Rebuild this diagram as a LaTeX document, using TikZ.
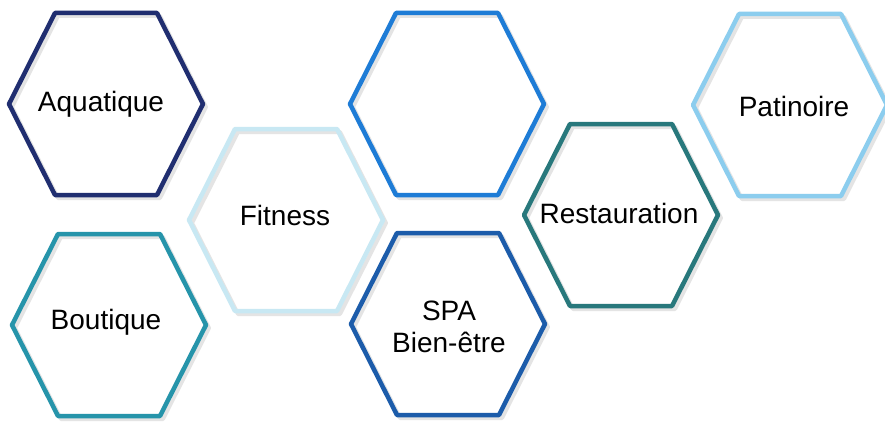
\documentclass[tikz,border=0pt]{standalone}
\usepackage{fontspec}
\setmainfont{Liberation Sans}
\definecolor{cAq}{RGB}{32,46,112}
\definecolor{cBo}{RGB}{38,148,170}
\definecolor{cFi}{RGB}{200,232,243}
\definecolor{cBl}{RGB}{30,124,214}
\definecolor{cSp}{RGB}{28,92,170}
\definecolor{cRe}{RGB}{40,120,124}
\definecolor{cPa}{RGB}{140,205,238}
\begin{document}
\begin{tikzpicture}[x=1pt,y=-1pt,
  hexshadow/.style={draw=black!30,opacity=.35,line width=4pt,line join=round},
  hexline/.style={line width=4.5pt,line join=round},
  lbl/.style={font=\fontsize{28}{32}\selectfont,text=black,align=center,inner sep=0pt},
  pics/hexa/.style={code={
    \draw[hexshadow] (-94,3)--(-48,-88)--(54,-88)--(100,3)--(54,94)--(-48,94)--cycle;
    \draw[pic actions,hexline] (-97,0)--(-51,-91)--(51,-91)--(97,0)--(51,91)--(-51,91)--cycle;
  }}]
\useasboundingbox[fill=white] (0,0) rectangle (885,425);
% hexagons
\pic[draw=cAq] at (106,104) {hexa};
\pic[draw=cBo] at (109,325) {hexa};
\pic[draw=cFi] at (286,220) {hexa};
\pic[draw=cBl] at (447,104) {hexa};
\pic[draw=cSp] at (448,324) {hexa};
\pic[draw=cRe] at (621,215) {hexa};
\pic[draw=cPa] at (790,105) {hexa};
% labels
\node[lbl] (aq) at (101,104) {Aquatique};
\node[lbl] (bo) at (106,322) {Boutique};
\node[lbl] (fi) at (285,215) {Fitness};
\node[lbl] (sp) at (449,327) {SPA\\Bien-être};
\node[lbl] (re) at (619,213) {Restauration};
\node[lbl] (pa) at (794,106) {Patinoire};
\end{tikzpicture}
\end{document}
